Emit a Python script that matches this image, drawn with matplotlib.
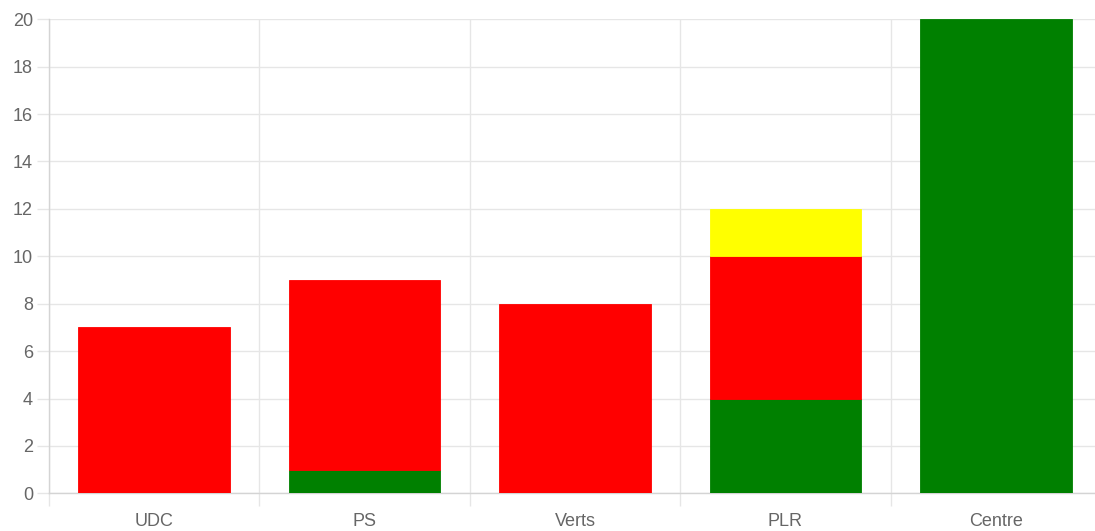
import matplotlib
matplotlib.use('Agg')
import matplotlib.pyplot as plt
import numpy as np

categories = ['UDC', 'PS', 'Verts', 'PLR', 'Centre']
green = [0, 1, 0, 4, 20]
red = [7, 8, 8, 6, 0]
yellow = [0, 0, 0, 2, 0]
series = [(green, '#008000'), (red, '#ff0000'), (yellow, '#ffff00')]

plt.rcParams['font.family'] = ['Liberation Sans', 'DejaVu Sans']

fig = plt.figure(figsize=(10.95, 5.31), dpi=100)
ax = fig.add_axes([49 / 1095, 1 - 493.3 / 531, 1052 / 1095, (493.3 - 19.3) / 531])

x = np.arange(len(categories))
bottom = np.zeros(len(categories))
for vals, color in series:
    vals = np.array(vals, dtype=float)
    # skip empty segments so no stray edge lines show up
    nz = vals > 0
    ax.bar(x[nz], vals[nz], width=0.72, bottom=bottom[nz], color=color,
           edgecolor=color, linewidth=0.6, zorder=3)
    bottom += vals

grid_c = '#e6e6e6'
ax.set_xlim(-0.5, len(categories) - 0.5)
ax.set_ylim(0, 20)
ax.set_yticks(np.arange(0, 21, 2))
ax.set_xticks(x)
ax.set_xticklabels(categories)
ax.set_xticks(np.arange(-0.5, len(categories), 1), minor=True)

ax.grid(True, axis='y', which='major', color=grid_c, linewidth=1, zorder=0)
ax.grid(True, axis='x', which='minor', color=grid_c, linewidth=1, zorder=0)
ax.tick_params(axis='x', which='major', length=0, pad=14.5, labelsize=13, labelcolor='#666666')
ax.tick_params(axis='x', which='minor', length=9, color=grid_c, width=1)
ax.tick_params(axis='y', length=8.6, color=grid_c, width=1, pad=3, labelsize=13, labelcolor='#666666')

for side in ['top', 'right']:
    ax.spines[side].set_visible(False)
for side in ['left', 'bottom']:
    ax.spines[side].set_color('#d4d4d4')
    ax.spines[side].set_linewidth(1)

fig.savefig('out.png', dpi=100)
